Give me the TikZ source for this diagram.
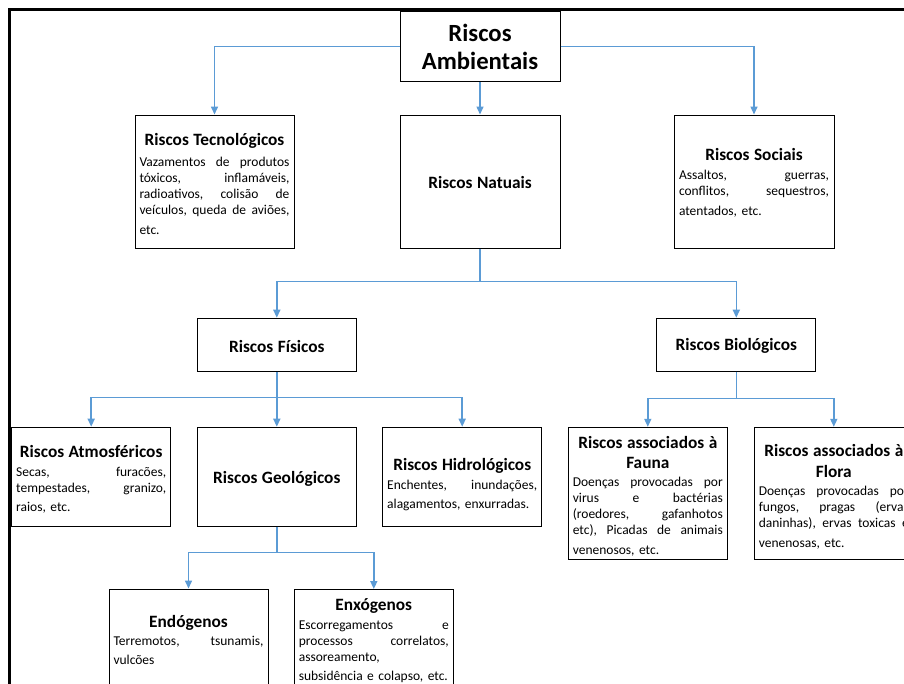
\documentclass[tikz,border=0pt]{standalone}
\usepackage{fontspec}
\setmainfont{Carlito}
\usetikzlibrary{arrows.meta}
\definecolor{linkblue}{RGB}{91,155,213}
\newcommand{\TT}[1]{{\fontsize{17.3}{20}\selectfont\bfseries #1}}
\newcommand{\JL}[1]{\makebox[150pt][s]{\frenchspacing\spaceskip=\fontdimen2\font plus 1fil\relax #1}}
\newcommand{\LL}[1]{\makebox[150pt][l]{#1}}
\begin{document}
\begin{tikzpicture}[x=1pt,y=-1pt,
  riskbox/.style={draw=black, line width=1pt, inner sep=0pt},
  txt/.style={inner sep=0pt, text width=150pt, align=center,
    font=\fontsize{13.5}{16}\selectfont},
  conn/.style={draw=linkblue, line width=1.5pt, -{Triangle[width=7pt,length=8pt]}},
  plain/.style={draw=linkblue, line width=1.5pt}]
\useasboundingbox (0,0) rectangle (904,683);
\fill[white] (0,0) rectangle (904,683);
\draw[line width=3pt] (9.5,1200) -- (9.5,9.5) -- (1200,9.5);

% boxes
\node[riskbox, minimum width=160pt, minimum height=70pt] (amb) at (480,46.7) {};
\node[riskbox, minimum width=159pt, minimum height=133pt] (tec) at (214.5,181.5) {};
\node[riskbox, minimum width=160pt, minimum height=133pt] (nat) at (480,181.5) {};
\node[riskbox, minimum width=160pt, minimum height=133pt] (soc) at (754,181.5) {};
\node[riskbox, minimum width=159pt, minimum height=53pt] (fis) at (276.8,344.7) {};
\node[riskbox, minimum width=159pt, minimum height=53pt] (bio) at (736.3,344.7) {};
\node[riskbox, minimum width=159pt, minimum height=99pt] (atm) at (91.2,476.7) {};
\node[riskbox, minimum width=159pt, minimum height=99pt] (geo) at (276.8,476.7) {};
\node[riskbox, minimum width=159pt, minimum height=99pt] (hid) at (462.2,476.7) {};
\node[riskbox, minimum width=159pt, minimum height=132pt] (fau) at (647.8,493.3) {};
\node[riskbox, minimum width=159pt, minimum height=132pt] (flo) at (833.8,493.3) {};
\node[riskbox, minimum width=159pt, minimum height=102pt] (endo) at (188.5,640) {};
\node[riskbox, minimum width=159pt, minimum height=102pt] (exo) at (373.8,640.5) {};

% texts
\node[txt, font=\fontsize{24.7}{28.4}\selectfont\bfseries] (ambt) at (amb.center)
  {Riscos\\Ambientais};

\node[txt] (tect) at ([yshift=-2pt]tec.center)
  {\TT{Riscos Tecnológicos}\\[5pt]
   \JL{Vazamentos de produtos}\\
   \JL{tóxicos, inflamáveis,}\\
   \JL{radioativos, colisão de}\\
   \JL{veículos, queda de aviões,}\\[4pt]
   \LL{etc.}};

\node[txt] (natt) at ([yshift=-0.5pt]nat.center) {\TT{Riscos Natuais}};

\node[txt] (soct) at ([yshift=-1.5pt]soc.center)
  {\TT{Riscos Sociais}\\[3pt]
   \JL{Assaltos, guerras,}\\
   \JL{conflitos, sequestros,}\\[4pt]
   \LL{atentados, etc.}};

\node[txt] (fist) at ([yshift=-1.5pt]fis.center) {\TT{Riscos Físicos}};
\node[txt] (biot) at ([yshift=-1pt]bio.center) {\TT{Riscos Biológicos}};

\node[txt] (atmt) at ([yshift=-2.5pt]atm.center)
  {\TT{Riscos Atmosféricos}\\[3pt]
   \JL{Secas, furacões,}\\
   \JL{tempestades, granizo,}\\[3pt]
   \LL{raios, etc.}};
\node[txt] (geot) at ([yshift=-2pt]geo.center) {\TT{Riscos Geológicos}};
\node[txt] (hidt) at ([yshift=-8pt]hid.center)
  {\TT{Riscos Hidrológicos}\\[3pt]
   \JL{Enchentes, inundações,}\\[3pt]
   \LL{alagamentos, enxurradas.}};

\node[txt] (faut) at ([yshift=-3pt]fau.center)
  {\TT{Riscos associados à}\\[4pt]
   \TT{Fauna}\\[2pt]
   \JL{Doenças provocadas por}\\
   \JL{virus e bactérias}\\
   \JL{(roedores, gafanhotos}\\
   \JL{etc), Picadas de animais}\\[4pt]
   \LL{venenosos, etc.}};
\node[txt] (flot) at ([yshift=-3pt]flo.center)
  {\TT{Riscos associados à}\\[5pt]
   \TT{Flora}\\[2pt]
   \JL{Doenças provocadas por}\\
   \JL{fungos, pragas (ervas}\\
   \JL{daninhas), ervas toxicas e}\\[4pt]
   \LL{venenosas, etc.}};

\node[txt] (endot) at (endo.center)
  {\TT{Endógenos}\\[2pt]
   \JL{Terremotos, tsunamis,}\\[3pt]
   \LL{vulcões}};
\node[txt] (exot) at (exo.center)
  {\TT{Enxógenos}\\[3pt]
   \JL{Escorregamentos e}\\
   \JL{processos correlatos,}\\
   \LL{assoreamento,}\\[3pt]
   \LL{subsidência e colapso, etc.}};

% connectors
\coordinate (j1) at (480,281.7);
\coordinate (j2) at (276.8,397.3);
\coordinate (j3) at (736.3,398.3);
\coordinate (j4) at (276.8,552.3);

\draw[conn] (amb.west) -| (tec.north);
\draw[conn] (amb.east) -| (soc.north);
\draw[conn] (amb.south) -- (nat.north);

\draw[plain] (nat.south) -- (j1);
\draw[conn] (j1) -| (fis.north);
\draw[conn] (j1) -| (bio.north);

\draw[plain] (fis.south) -- (j2);
\draw[conn] (j2) -| (atm.north);
\draw[conn] (j2) -- (geo.north);
\draw[conn] (j2) -| (hid.north);

\draw[plain] (bio.south) -- (j3);
\draw[conn] (j3) -| (fau.north);
\draw[conn] (j3) -| (flo.north);

\draw[plain] (geo.south) -- (j4);
\draw[conn] (j4) -| (endo.north);
\draw[conn] (j4) -| (exo.north);
\end{tikzpicture}
\end{document}
